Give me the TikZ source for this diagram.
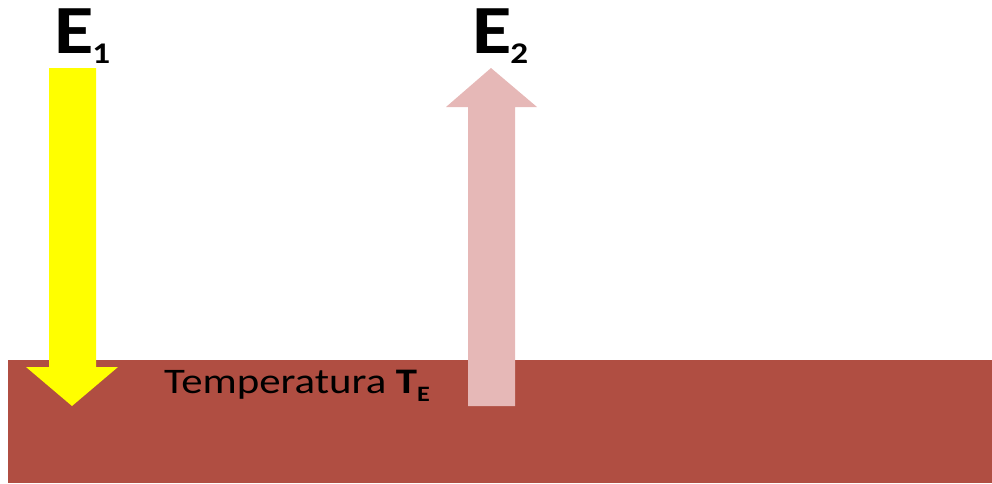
\documentclass[tikz,border=0pt]{standalone}
\usepackage{fontspec}
\setmainfont{Carlito}
\usetikzlibrary{positioning}

\definecolor{groundred}{RGB}{176,78,66}
\definecolor{palepink}{RGB}{230,184,183}
\definecolor{sunyellow}{RGB}{255,255,0}

\tikzset{
  biglabel/.style={anchor=base west, inner sep=0pt, font=\fontsize{69}{69}\selectfont\bfseries},
  templabel/.style={anchor=base west, inner sep=0pt, font=\fontsize{36}{36}\selectfont}
}

\begin{document}
\begin{tikzpicture}[x=1pt, y=-1pt]
  \useasboundingbox (0,0) rectangle (992,483);

  % Ground
  \fill[groundred] (8,360) rectangle (992,483);

  % Incoming arrow
  \fill[sunyellow] (49,68) -- (96,68) -- (96,367) -- (118,367) -- (72,406)
    -- (26,367) -- (49,367) -- cycle;

  % Outgoing arrow
  \fill[palepink] (468,406) -- (515,406) -- (515,107) -- (537,107) -- (491,68)
    -- (446,107) -- (468,107) -- cycle;

  % Labels
  \node[biglabel] (eone) at (54,53)
    {\scalebox{1.17}[1]{E\kern-1pt\raisebox{-10pt}{\fontsize{30}{30}\selectfont 1}}};
  \node[biglabel] (etwo) at (472,53)
    {\scalebox{1.17}[1]{E\kern-1pt\raisebox{-10pt}{\fontsize{30}{30}\selectfont 2}}};
  \node[templabel] (temp) at (164,393)
    {\scalebox{1.19}[1]{Temperatura \textbf{T}\raisebox{-8pt}{\fontsize{22}{22}\selectfont\bfseries E}}};

\end{tikzpicture}
\end{document}
